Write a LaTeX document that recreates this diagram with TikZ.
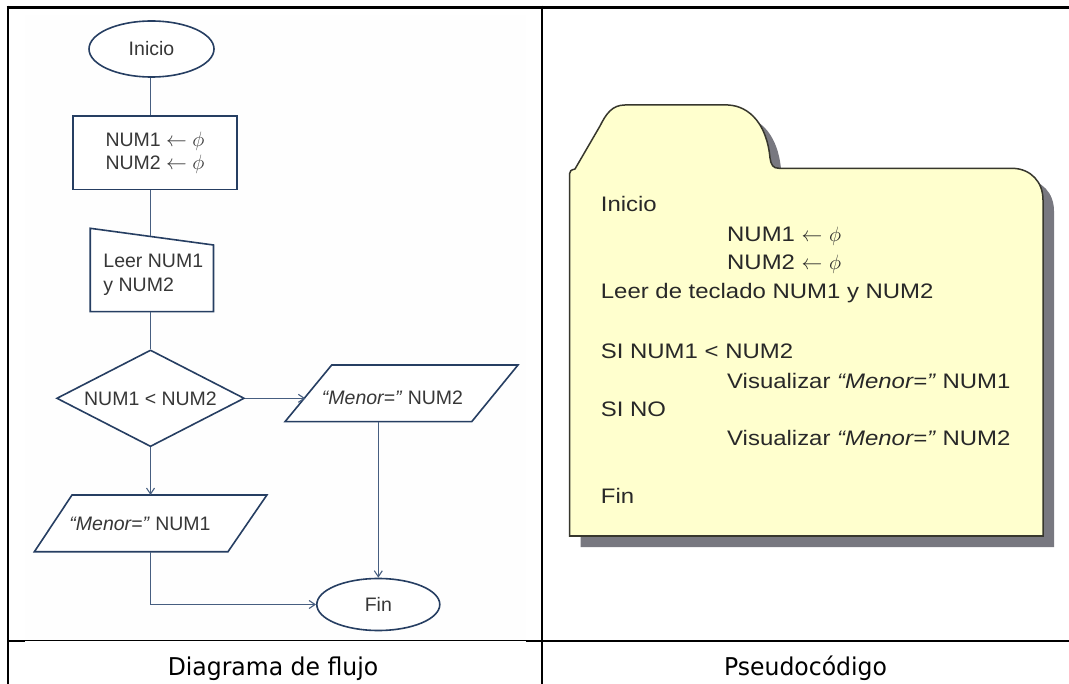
\documentclass[tikz,border=0pt]{standalone}
\usepackage{fontspec}
\setmainfont{Liberation Sans}
\newfontfamily\pseudofont{Liberation Sans}[FakeStretch=1.14]
\newfontfamily\labfont{DejaVu Sans}[FakeStretch=0.96]
\usetikzlibrary{arrows.meta,shapes.geometric,calc}

\definecolor{fcline}{RGB}{38,62,98}
\definecolor{fcconncol}{RGB}{70,94,128}
\definecolor{fctextcol}{RGB}{55,55,55}
\definecolor{folderfill}{RGB}{255,255,206}
\definecolor{folderline}{RGB}{55,55,45}
\definecolor{foldershadow}{RGB}{120,120,128}
\definecolor{pstext}{RGB}{40,40,40}
\definecolor{imgbg}{RGB}{254,254,254}

\newcommand{\asgn}{\ $\leftarrow$\ $\phi$}

\begin{document}
\begin{tikzpicture}[x=1pt,y=-1pt,
  fcshape/.style={draw=fcline, line width=1.6pt, fill=white, text=fctextcol,
    font=\fontsize{19.5}{23.4}\selectfont, inner sep=0pt},
  fcconn/.style={draw=fcconncol, line width=1.1pt},
  fcarrow/.style={fcconn, -{Straight Barb[length=6pt,width=8pt]}},
  fctext/.style={text=fctextcol, font=\fontsize{19.5}{23.4}\selectfont, inner sep=0pt},
  pseudo/.style={anchor=base west, inner sep=0pt, text=pstext,
    font=\pseudofont\fontsize{21}{25}\selectfont},
  tabrule/.style={draw=black, line width=2.4pt},
  caption/.style={anchor=base, inner sep=0pt, font=\labfont\fontsize{24.5}{29}\selectfont}
]
\useasboundingbox (0,0) rectangle (1069,684);
\fill[white] (0,0) rectangle (1069,684);

% faint background of the flowchart image
\fill[imgbg] (25,15) rectangle (526,640);

% table rules
\draw[tabrule, line width=3pt] (6.5,7.2) -- (1069,7.2);
\draw[tabrule] (7.8,5.7) -- (7.8,684);
\draw[tabrule, line width=2.2pt] (542,5.7) -- (542,684);
\draw[black, line width=2.3pt] (7.8,641) -- (25,641);
\draw[black, line width=1pt] (25,640.5) -- (526,640.5);
\draw[black, line width=2.3pt] (526,641) -- (1069,641);

% ---------- flowchart ----------
\node[fcshape, ellipse, minimum width=125pt, minimum height=56pt] (ini) at (151.5,49) {Inicio};
\node[fcshape, rectangle, minimum width=164pt, minimum height=73.3pt, align=left] (asig) at (155,152.7) {NUM1\asgn\\NUM2\asgn};

\draw[fcshape] (90.2,228.3) -- (213.5,245) -- (213.5,311.7) -- (90.2,311.7) -- cycle;
\node[fctext, align=left] (leer) at (153.3,275) {Leer NUM1\\y NUM2};
\coordinate (leer-n) at (150.5,236.5);
\coordinate (leer-s) at (150.5,311.7);

\node[fcshape, diamond, aspect=1.9, minimum width=187.7pt, minimum height=96.7pt] (cond) at (150.5,398.3) {NUM1 < NUM2};

\draw[fcshape] (331.7,365) -- (518,365) -- (471.7,421.7) -- (285,421.7) -- cycle;
\node[fctext, anchor=base] (p2) at (392.5,405) {\textit{“Menor=”} NUM2};
\coordinate (p2-w) at (305.3,398.3);
\coordinate (p2-s) at (378.3,421.7);

\draw[fcshape] (72,495) -- (266.9,495) -- (228,551.7) -- (34.4,551.7) -- cycle;
\node[fctext, anchor=base] (p1) at (140,530) {\textit{“Menor=”} NUM1};
\coordinate (p1-n) at (150.5,495);
\coordinate (p1-s) at (150.5,551.7);

\node[fcshape, ellipse, minimum width=123pt, minimum height=52pt] (fin) at (378.3,604.5) {Fin};

\draw[fcconn] (ini.south -| leer-n) -- (leer-n |- asig.north);
\draw[fcconn] (asig.south -| leer-n) -- (leer-n);
\draw[fcconn] (leer-s) -- (cond.north);
\draw[fcarrow] (cond.east) -- (p2-w);
\draw[fcarrow] (cond.south) -- (p1-n);
\draw[fcarrow] (p2-s) -- (fin.north);
\draw[fcarrow] (p1-s) |- (fin.west);

% ---------- pseudocode folder ----------
\begin{scope}[shift={(11,11)}]
\fill[foldershadow] (569.5,536) -- (569.5,174) .. controls (569.5,171) and (571,170) .. (575,169)
  -- (600,126) .. controls (606,114) and (612,105) .. (625,105) -- (728,105)
  .. controls (750,106) and (767,125) .. (770,158)
  .. controls (771,165) and (773,168.3) .. (779,168.3) -- (1013,168.3)
  .. controls (1031,169) and (1043,182) .. (1043,200) -- (1043,536) -- cycle;
\end{scope}
\draw[folderline, line width=1.5pt, fill=folderfill] (569.5,536) -- (569.5,174) .. controls (569.5,171) and (571,170) .. (575,169)
  -- (600,126) .. controls (606,114) and (612,105) .. (625,105) -- (728,105)
  .. controls (750,106) and (767,125) .. (770,158)
  .. controls (771,165) and (773,168.3) .. (779,168.3) -- (1013,168.3)
  .. controls (1031,169) and (1043,182) .. (1043,200) -- (1043,536) -- cycle;

\node[pseudo] (ps1) at (600.7,211.7) {Inicio};
\node[pseudo] (ps2) at (727,241.7) {NUM1\asgn};
\node[pseudo] (ps3) at (727,270) {NUM2\asgn};
\node[pseudo] (ps4) at (600.7,298.3) {Leer de teclado NUM1 y NUM2};
\node[pseudo] (ps5) at (600.7,358.3) {SI NUM1 < NUM2};
\node[pseudo] (ps6) at (727,388.3) {Visualizar \textit{“Menor=”} NUM1};
\node[pseudo] (ps7) at (600.7,416.7) {SI NO};
\node[pseudo] (ps8) at (727,446) {Visualizar \textit{“Menor=”} NUM2};
\node[pseudo] (ps9) at (600.7,503.3) {Fin};

% ---------- captions ----------
\node[caption] (cap1) at (273,675) {Diagrama de flujo};
\node[caption] (cap2) at (805.5,675) {Pseudocódigo};
\end{tikzpicture}
\end{document}
